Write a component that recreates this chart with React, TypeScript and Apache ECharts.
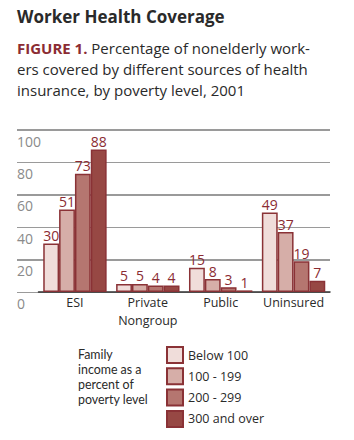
import React, { useEffect, useRef } from "react";
import * as echarts from "echarts";

const categories = ["ESI", "Private\nNongroup", "Public", "Uninsured"];
const seriesNames = ["Below 100", "100 - 199", "200 - 299", "300 and over"];
const below100 = [30, 5, 15, 49];
const r100to199 = [51, 5, 8, 37];
const r200to299 = [73, 4, 3, 19];
const r300plus = [88, 4, 1, 7];
const yTicks = [0, 20, 40, 60, 80, 100];
const thickLines = [20, 60, 100];
const legendTitleLines = ["Family", "income as a", "percent of", "poverty level"];

const seriesValues = [below100, r100to199, r200to299, r300plus];
const fills = ["#f0ddda", "#d6aea8", "#b57670", "#974844"];
const border = "#8a3236";
const red = "#8b2c33";
const FONT = "'Open Sans', 'Noto Sans', sans-serif";
const FONT_COMPACT = "Lato, 'Open Sans', sans-serif";

export default function App() {
  const ref = useRef<HTMLDivElement>(null);
  useEffect(() => {
    if (!ref.current) return;
    const chart = echarts.init(ref.current, undefined, { renderer: "svg" });
    const option: any = {
      animation: false,
      backgroundColor: "#ffffff",
      textStyle: { fontFamily: FONT },
      grid: [
        { left: 17, right: 24, top: 130, bottom: 148 },
        { left: 38.5, right: 24, top: 130, bottom: 148 },
      ],
      xAxis: [
        { gridIndex: 0, type: "category", data: ["x"], show: false },
        {
          gridIndex: 1,
          type: "category",
          data: categories,
          axisLine: { lineStyle: { color: "#333", width: 1.5 } },
          axisTick: { show: false },
          axisLabel: {
            color: "#2a2a2a",
            fontSize: 12.5,
            fontFamily: FONT,
            margin: 2,
            lineHeight: 17.5,
            interval: 0,
          },
        },
      ],
      yAxis: [
        {
          gridIndex: 0,
          type: "value",
          min: yTicks[0],
          max: yTicks[yTicks.length - 1],
          interval: 20,
          axisLine: { show: false },
          axisTick: { show: false },
          splitLine: { lineStyle: { color: "#9a9a9a", width: 1 } },
          axisLabel: {
            inside: true,
            margin: 0,
            verticalAlign: "top",
            padding: [4, 0, 0, 0],
            color: "#8a8a8a",
            fontSize: 14,
            fontFamily: FONT,
          },
        },
        {
          gridIndex: 1,
          type: "value",
          min: yTicks[0],
          max: yTicks[yTicks.length - 1],
          interval: 20,
          show: false,
        },
      ],
      legend: {
        orient: "vertical",
        left: 166,
        top: 346,
        padding: 0,
        itemWidth: 16,
        itemHeight: 16,
        itemGap: 3.3,
        itemTextGap: 5,
        icon: "rect",
        textStyle: { color: "#2a2a2a", fontSize: 12.5, lineHeight: 16, fontFamily: FONT },
        data: seriesNames,
      },
      graphic: [
        {
          type: "text",
          left: 17,
          top: 8,
          style: {
            text: "Worker Health Coverage",
            fontSize: 17,
            fontWeight: "bold",
            fontFamily: FONT,
            fill: "#2a2a2a",
          },
        },
        {
          type: "text",
          left: 17,
          top: 37,
          style: {
            text:
              "{b|FIGURE 1.} Percentage of nonelderly work-\ners covered by different sources of health\ninsurance, by poverty level, 2001",
            fontSize: 15,
            lineHeight: 21,
            fontFamily: FONT,
            fill: "#2a2a2a",
            rich: {
              b: { fontSize: 15, fontWeight: "bold", fill: red, fontFamily: FONT, lineHeight: 21 },
            },
          },
        },
        ...legendTitleLines.map((t, i) => ({
          type: "text",
          left: 78,
          top: 347 + i * 15,
          style: {
            text: t,
            fontSize: 12.4,
            lineHeight: 14,
            fontFamily: FONT_COMPACT,
            fill: "#2a2a2a",
          },
        })),
      ],
      series: [
        {
          type: "line",
          xAxisIndex: 0,
          yAxisIndex: 0,
          data: [],
          silent: true,
          z: 0,
          markLine: {
            symbol: "none",
            silent: true,
            z: 0,
            label: { show: false },
            lineStyle: { color: "#9a9a9a", width: 2, type: "solid" },
            data: thickLines.map((v) => ({ yAxis: v })),
          },
        },
        ...seriesNames.map((name, i) => ({
          name,
          type: "bar",
          xAxisIndex: 1,
          yAxisIndex: 1,
          z: 5,
          data: seriesValues[i],
          barGap: "0%",
          barCategoryGap: "13%",
          itemStyle: { color: fills[i], borderColor: border, borderWidth: 1.5 },
          label: {
            show: true,
            position: "top",
            distance: 1,
            color: red,
            fontSize: 14,
            fontFamily: FONT,
          },
        })),
      ],
    };
    chart.setOption(option);
    return () => chart.dispose();
  }, []);
  return <div ref={ref} style={{ width: 354, height: 440, position: "absolute", left: 0, top: 0 }} />;
}
